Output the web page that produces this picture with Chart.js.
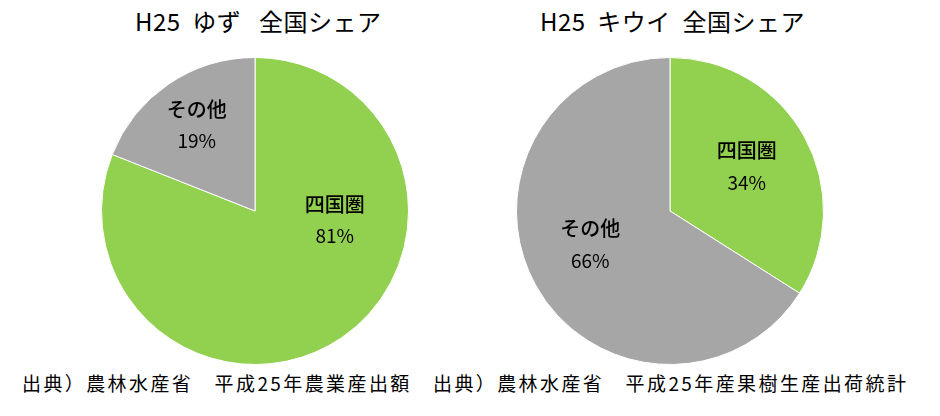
<!DOCTYPE html><html><head><meta charset="utf-8">
<script src="https://cdn.jsdelivr.net/npm/chart.js@4"></script>
<style>body{margin:0;width:940px;height:416px;background:#fff;font-family:"Noto Sans CJK JP",sans-serif;position:relative;overflow:hidden}
.t{position:absolute;font-size:24px;color:#000;white-space:nowrap;letter-spacing:0.5px}
.c{position:absolute;top:56px;width:310px;height:310px}
.s{position:absolute;top:369px;font-size:19px;letter-spacing:2.4px;white-space:nowrap}</style></head><body>
<div class="t" style="left:135px;top:3px">H25&nbsp; ゆず&nbsp;&nbsp; 全国シェア</div>
<div class="t" style="left:540px;top:3px">H25&nbsp; キウイ&nbsp; 全国シェア</div>
<div class="c" style="left:100px"><canvas id="a"></canvas></div>
<div class="c" style="left:515px"><canvas id="b"></canvas></div>
<div class="s" style="left:22px">出典）農林水産省　平成25年農業産出額</div>
<div class="s" style="left:433px">出典）農林水産省　平成25年産果樹生産出荷統計</div>
<script>
const categories=["四国圏","その他"];
const yuzuValues=[81,19];
const kiwiValues=[34,66];
const colors=["#92D050","#A6A6A6"];
// label anchors in units of radius (dx, dy) from center
const yuzuAnchors=[[0.52,0.06],[-0.38,-0.56]];
const kiwiAnchors=[[0.5,-0.29],[-0.52,0.22]];
function mk(id,vals,anchors){
 new Chart(document.getElementById(id),{type:'pie',
  data:{labels:categories,datasets:[{data:vals,backgroundColor:colors,borderColor:'#fff',borderWidth:1,hoverOffset:0}]},
  options:{responsive:true,maintainAspectRatio:false,animation:false,layout:{padding:1},
   plugins:{legend:{display:false},tooltip:{enabled:false}}},
  plugins:[{id:'lbl',afterDraw(ch){const ctx=ch.ctx;const m=ch.getDatasetMeta(0);
   m.data.forEach((arc,i)=>{const r=arc.outerRadius;const x=arc.x+anchors[i][0]*r,y=arc.y+anchors[i][1]*r;
    ctx.save();ctx.fillStyle='#000';ctx.textAlign='center';ctx.textBaseline='middle';
    ctx.font='500 20px "Noto Sans CJK JP"';ctx.fillText(categories[i],x,y-16);
    ctx.font='19px "Noto Sans CJK JP"';ctx.fillText(vals[i]+'%',x,y+16);ctx.restore();});}}]});
}
mk('a',yuzuValues,yuzuAnchors);mk('b',kiwiValues,kiwiAnchors);
</script></body></html>
